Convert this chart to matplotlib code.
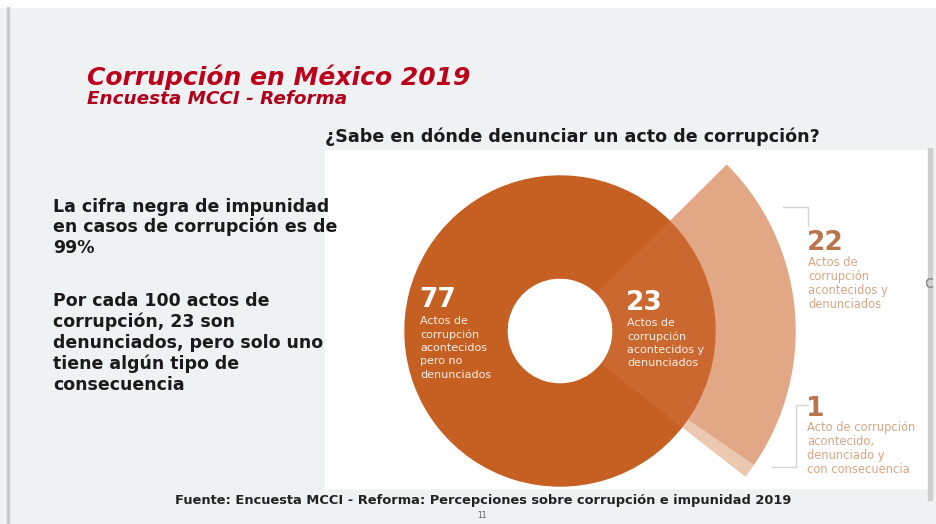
import matplotlib.pyplot as plt
from matplotlib.patches import Wedge, Rectangle

# datos de la encuesta
totales = [77, 23]            # no denunciados, denunciados
denunciados = [1, 22]         # con consecuencia, sin consecuencia
etiquetas_dona = ["Actos de\ncorrupción\nacontecidos\npero no\ndenunciados",
                  "Actos de\ncorrupción\nacontecidos y\ndenunciados"]
etiquetas_banda = ["Acto de corrupción\nacontecido,\ndenunciado y\ncon consecuencia",
                   "Actos de\ncorrupción\nacontecidos y\ndenunciados"]

titulo = "Corrupción en México 2019"
subtitulo = "Encuesta MCCI - Reforma"
pregunta = "¿Sabe en dónde denunciar un acto de corrupción?"
parrafo1 = ["La cifra negra de impunidad", "en casos de corrupción es de", "99%"]
parrafo2 = ["Por cada 100 actos de", "corrupción, 23 son", "denunciados, pero solo uno",
            "tiene algún tipo de", "consecuencia"]
fuente = "Fuente: Encuesta MCCI - Reforma: Percepciones sobre corrupción e impunidad 2019"

W, H = 936, 524
fig = plt.figure(figsize=(W / 100, H / 100), dpi=100)
ax = fig.add_axes([0, 0, 1, 1])
ax.set_xlim(0, W)
ax.set_ylim(H, 0)
ax.axis("off")

# fondo de la diapositiva
ax.add_patch(Rectangle((0, 0), W, H, color="#eff2f2", zorder=0))
ax.add_patch(Rectangle((0, 0), W, 7, color="white", zorder=0))
ax.add_patch(Rectangle((7, 7), 2, H, color="#c9cbcb", zorder=1))
ax.add_patch(Rectangle((325, 150), 603, 338, color="white", zorder=1))
ax.add_patch(Rectangle((928, 148), 4, 352, color="#cfcfcf", zorder=1))
ax.text(924, 283, "c", fontsize=12, color="#8a8a8a", ha="left", va="center", zorder=2)

# dona
cx, cy = 560, 331
R, r, R2 = 155, 53, 235
deg = 360 / sum(totales)
a0 = -38                      # angulo (en pantalla) donde empieza el 23
a1 = a0 + totales[1] * deg

# eje y invertido: angulo en pantalla -> -angulo en datos
ax.add_patch(Wedge((cx, cy), R2, -(a0 + denunciados[0] * deg), -a0, width=R2 - R + 4,
                   color="#ecc8b1", zorder=2))
ax.add_patch(Wedge((cx, cy), R2, -a1, -(a0 + denunciados[0] * deg), width=R2 - R + 4,
                   color="#e2a886", zorder=2))
ax.add_patch(Wedge((cx, cy), R, -(a0 + 360), -a1, width=R - r, color="#c65f22", zorder=3))
ax.add_patch(Wedge((cx, cy), R, -a1, -a0, width=R - r, color="#cb6830", zorder=3))

# etiquetas dentro de la dona
ax.text(419, 307, str(totales[0]), fontsize=19, fontweight="bold", color="white",
        va="baseline", zorder=4)
ax.text(420, 316, etiquetas_dona[0], fontsize=8, color="#fdf0e6", va="top",
        linespacing=1.4, zorder=4)
ax.text(626, 310, str(totales[1]), fontsize=19, fontweight="bold", color="white",
        va="baseline", zorder=4)
ax.text(627, 318, etiquetas_dona[1], fontsize=8, color="#fdf0e6", va="top",
        linespacing=1.4, zorder=4)

# etiquetas de la banda
ax.text(807, 250, str(denunciados[1]), fontsize=19, fontweight="bold", color="#b9764c",
        va="baseline", zorder=4)
ax.text(808, 256, etiquetas_banda[1], fontsize=8.3, color="#d9a584", va="top",
        linespacing=1.1, zorder=4)
ax.text(806, 416, str(denunciados[0]), fontsize=19, fontweight="bold", color="#b9764c",
        va="baseline", zorder=4)
ax.text(807, 421, etiquetas_banda[0], fontsize=8.3, color="#d9a584", va="top",
        linespacing=1.1, zorder=4)

# corchetes
gris = "#d5d5d5"
ax.plot([783, 808, 808], [207, 207, 226], color=gris, lw=1, zorder=4)
ax.plot([808, 796, 796, 772], [405, 405, 467, 467], color=gris, lw=1, zorder=4)

# textos de la diapositiva
ax.text(87, 85, titulo, fontsize=18, fontweight="bold", fontstyle="italic",
        color="#bd001b", va="baseline", zorder=4)
ax.text(87, 104, subtitulo, fontsize=13.2, fontweight="bold", fontstyle="italic",
        color="#b0001c", va="baseline", zorder=4)
ax.text(325, 142, pregunta, fontsize=12.6, fontweight="bold", color="#1a1a1a",
        va="baseline", zorder=4)

for i, linea in enumerate(parrafo1):
    ax.text(53, 212 + i * 20.5, linea, fontsize=12.5, fontweight="bold",
            color="#1a1a1a", va="baseline", zorder=4)
for i, linea in enumerate(parrafo2):
    ax.text(53, 306 + i * 21, linea, fontsize=12.5, fontweight="bold",
            color="#1a1a1a", va="baseline", zorder=4)

ax.text(175, 504, fuente, fontsize=9.35, fontweight="bold", color="#222222",
        va="baseline", zorder=4)
ax.text(482, 516, "11", fontsize=5.5, color="#555555", ha="center", va="center", zorder=4)

fig.savefig("out.png", dpi=100)
